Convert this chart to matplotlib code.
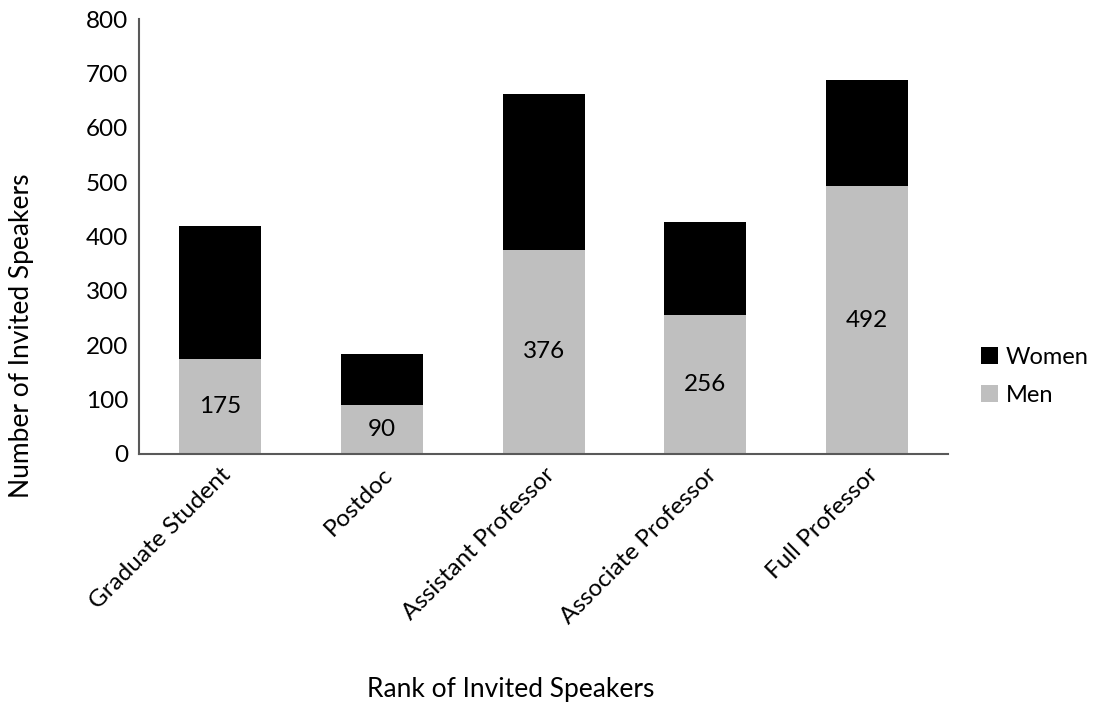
import matplotlib
matplotlib.use("Agg")
import matplotlib.pyplot as plt
import numpy as np

plt.rcParams["font.family"] = ["Lato", "DejaVu Sans"]

categories = ["Graduate Student", "Postdoc", "Assistant Professor", "Associate Professor", "Full Professor"]
men = [175, 90, 376, 256, 492]
women = [244, 94, 286, 170, 195]

fig = plt.figure(figsize=(11, 7.09), dpi=100)
ax = fig.add_axes([0.1264, 0.3597, 0.7355, 0.6135])

x = np.arange(len(categories))
bars_men = ax.bar(x, men, width=0.506, color="#bfbfbf", label="Men")
ax.bar(x, women, width=0.506, bottom=men, color="#000000", label="Women")

for rect, v in zip(bars_men, men):
    ax.text(rect.get_x() + rect.get_width() / 2, v / 2, str(v),
            ha="center", va="center", fontsize=17.5, color="#000000")

ax.set_xlim(-0.5, 4.5)
ax.set_ylim(0, 800)
ax.set_yticks(np.arange(0, 801, 100))
ax.set_xticks(x)
ax.set_xticklabels(categories, rotation=45, ha="right", rotation_mode="anchor", fontsize=17.5)
ax.tick_params(axis="both", length=0, labelsize=17.5, colors="#000000")
ax.tick_params(axis="x", pad=7)
ax.tick_params(axis="y", pad=8)

for side in ["top", "right"]:
    ax.spines[side].set_visible(False)
for side in ["left", "bottom"]:
    ax.spines[side].set_color("#595959")
    ax.spines[side].set_linewidth(1.5)

handles, labels = ax.get_legend_handles_labels()
fig.legend(handles[::-1], labels[::-1], loc="center left", bbox_to_anchor=(0.892, 0.469),
           frameon=False, fontsize=17, handlelength=0.7, handleheight=0.7,
           handletextpad=0.35, labelspacing=0.72, borderpad=0, borderaxespad=0)

fig.text(0.464, 0.027, "Rank of Invited Speakers", ha="center", va="center", fontsize=19)
fig.text(0.02, 0.526, "Number of Invited Speakers", ha="center", va="center",
         rotation=90, fontsize=19)

fig.savefig("out.png", dpi=100)
